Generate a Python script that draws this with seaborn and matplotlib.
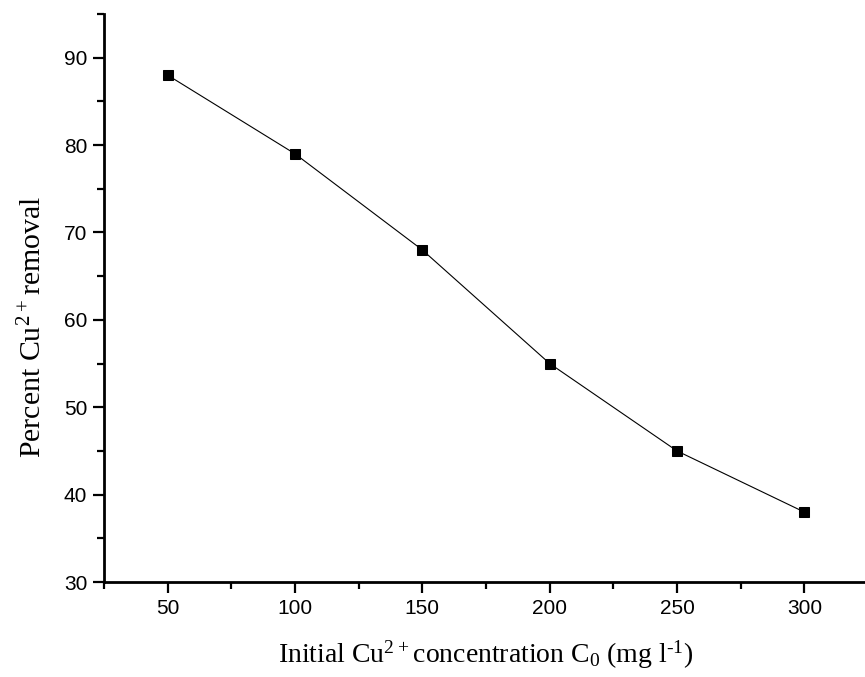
import numpy as np
import pandas as pd
import matplotlib
matplotlib.use('Agg')
import matplotlib.pyplot as plt
from matplotlib.ticker import MultipleLocator
import seaborn as sns

# leitura do grafico: concentracao inicial x remocao (%)
conc = [50, 100, 150, 200, 250, 300]
remocao = [88, 79, 68, 55, 45, 38]

sns.set_style('ticks', {'axes.edgecolor': 'black', 'xtick.color': 'black',
                        'ytick.color': 'black', 'text.color': 'black',
                        'axes.labelcolor': 'black'})
plt.rcParams['font.family'] = ['Liberation Sans Narrow', 'Liberation Sans', 'DejaVu Sans']
plt.rcParams['mathtext.fontset'] = 'custom'
plt.rcParams['mathtext.rm'] = 'Liberation Serif'

df = pd.DataFrame({'conc': conc, 'remocao': remocao})

fig = plt.figure(figsize=(8.65, 6.77), dpi=100)
ax = fig.add_axes([104/865, 95/677, 764/865, 568/677])

sns.lineplot(data=df, x='conc', y='remocao', ax=ax, color='black',
             linewidth=0.8, marker='s', markersize=7.5,
             markeredgecolor='black', markerfacecolor='black')

ax.set_xlim(25, 325)
ax.set_ylim(30, 95)
ax.xaxis.set_major_locator(MultipleLocator(50))
ax.xaxis.set_minor_locator(MultipleLocator(25))
ax.yaxis.set_major_locator(MultipleLocator(10))
ax.yaxis.set_minor_locator(MultipleLocator(5))
ax.set_xticks([50, 100, 150, 200, 250, 300])
ax.set_yticks([30, 40, 50, 60, 70, 80, 90])

for s in ['top', 'right']:
    ax.spines[s].set_visible(False)
for s in ['left', 'bottom']:
    ax.spines[s].set_linewidth(2)
    ax.spines[s].set_color('black')

ax.tick_params(which='major', direction='out', length=8, width=1.6,
               labelsize=15, pad=4, colors='black')
ax.tick_params(which='minor', direction='out', length=5, width=1.6,
               colors='black')

serif = ['Liberation Serif', 'DejaVu Serif']
ax.set_xlabel('Initial Cu$\\mathregular{^{2+}}$concentration C$\\mathregular{_0}$ (mg l$\\mathregular{^{\u20101}}$)',
              fontsize=20, family=serif, color='black')
ax.set_ylabel('Percent Cu$\\mathregular{^{2+}}$removal', fontsize=21.5,
              family=serif, color='black')
ax.xaxis.set_label_coords(0.5, -0.100)
ax.yaxis.set_label_coords(-0.074, 0.45)

fig.savefig('out.png', dpi=100)
